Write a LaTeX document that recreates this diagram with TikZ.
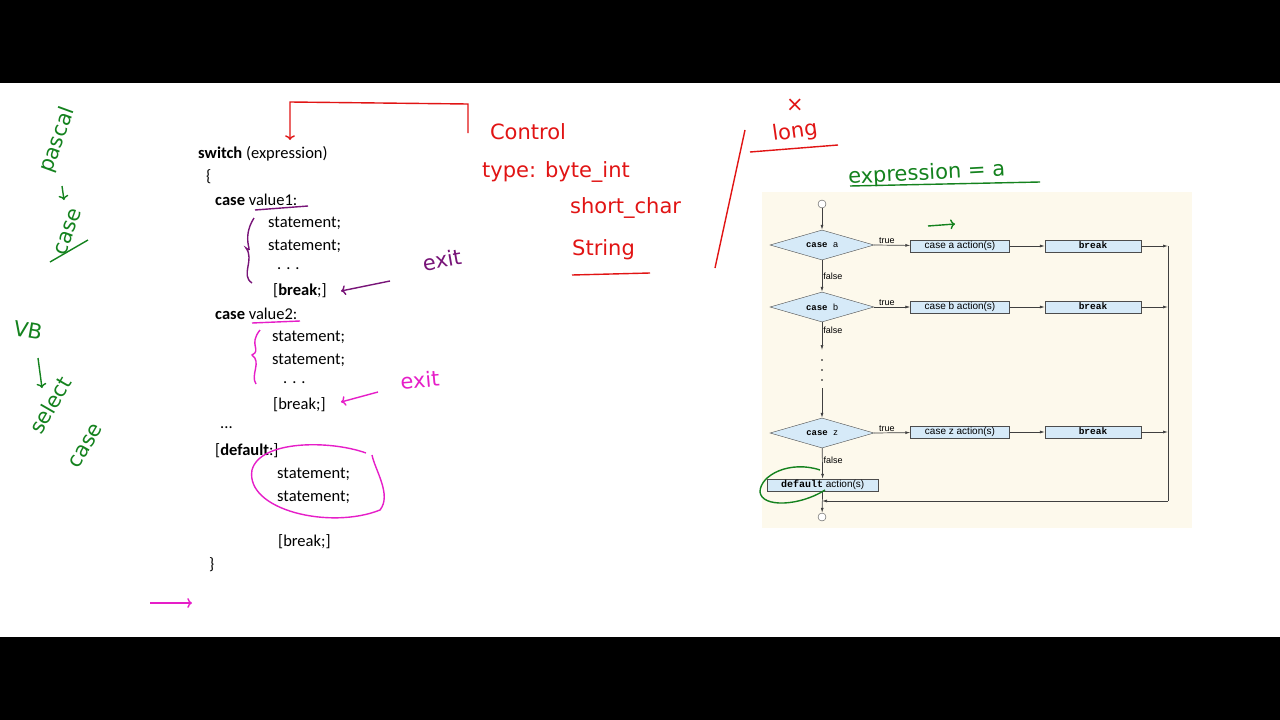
\documentclass[tikz,border=0pt]{standalone}
\usepackage{fontspec}
\setmainfont{Carlito}
\newfontfamily\fcs{Liberation Sans}
\newfontfamily\fcm{Liberation Mono}
\newfontfamily\hand{DejaVu Sans}
\usetikzlibrary{shapes.geometric,arrows.meta}
\definecolor{hgreen}{RGB}{20,130,30}
\definecolor{hred}{RGB}{225,20,20}
\definecolor{hmag}{RGB}{230,30,200}
\definecolor{hpur}{RGB}{120,20,120}
\definecolor{fbg}{RGB}{253,249,236}
\definecolor{fbox}{RGB}{214,234,248}
\begin{document}
\begin{tikzpicture}[x=1pt,y=-1pt,
 code/.style={anchor=west,inner sep=0pt,font=\fontsize{16.5}{18}\selectfont},
 dia/.style={diamond,aspect=3.4,draw=black!70,fill=fbox,minimum width=104pt,minimum height=30pt,inner sep=0pt,font=\fcm\bfseries\fontsize{9}{9}\selectfont},
 act/.style={draw=black!70,fill=fbox,minimum width=99pt,minimum height=12pt,inner sep=0pt,text height=7.5pt,text depth=2.5pt,font=\fcs\fontsize{10}{10}\selectfont},
 brk/.style={draw=black!70,fill=fbox,minimum width=96pt,minimum height=12pt,inner sep=0pt,text height=7.5pt,text depth=2.5pt,font=\fcm\bfseries\fontsize{9.5}{10}\selectfont},
 lab/.style={font=\fcs\fontsize{9}{9}\selectfont,inner sep=1pt},
 fl/.style={draw=black!75,line width=0.7pt,-{Latex[length=5pt,width=3pt]}},
 hw/.style={font=\hand\fontsize{21}{22}\selectfont,inner sep=0pt},
 hl/.style={line width=1.4pt},
]
\useasboundingbox (0,0) rectangle (1280,720);
\fill[white] (0,0) rectangle (1280,720);
\fill[black] (0,0) rectangle (1280,83);
\fill[black] (0,637) rectangle (1280,720);
% code
\node[code] (s1) at (198,154) {\textbf{switch} (expression)};
\node[code] (s2) at (206,177) {\{};
\node[code] (s3) at (215,200) {\textbf{case} value1:};
\node[code] (s4) at (268,223) {statement;};
\node[code] (s5) at (268,246) {statement;};
\node[code] (s6) at (277,269) {. . .};
\node[code] (s7) at (273,291) {[\textbf{break};]};
\node[code] (s8) at (215,314) {\textbf{case} value2:};
\node[code] (s9) at (272,337) {statement;};
\node[code] (s10) at (272,360) {statement;};
\node[code] (s11) at (283,383) {. . .};
\node[code] (s12) at (273,405) {[break;]};
\node[code] (s13) at (220,428) {...};
\node[code] (s14) at (215,451) {[\textbf{default}:]};
\node[code] (s15) at (277,474) {statement;};
\node[code] (s16) at (277,497) {statement;};
\node[code] (s17) at (278,542) {[break;]};
\node[code] (s18) at (209,565) {\}};
% flowchart
\fill[fbg] (762,192) rectangle (1192,528);
\node[circle,draw=black!70,fill=white,minimum size=8pt,inner sep=0pt] (st) at (822,204) {};
\node[dia] (da) at (822,245) {case {\fcs\mdseries a}};
\node[dia] (db) at (822,307) {case {\fcs\mdseries b}};
\node[dia] (dz) at (822,433) {case {\fcs\mdseries z}};
\node[act] (aa) at (960,246) {case a action(s)};
\node[act] (ab) at (960,307) {case b action(s)};
\node[act] (az) at (960,432) {case z action(s)};
\node[brk] (ba) at (1093,246) {break};
\node[brk] (bb) at (1093,307) {break};
\node[brk] (bz) at (1093,432) {break};
\node[draw=black!70,fill=fbox,minimum width=111pt,minimum height=12pt,inner sep=0pt,text height=7.5pt,text depth=2.5pt,anchor=west,font=\fcs\fontsize{10}{10}\selectfont] (df) at (767,485) {{\fcm\bfseries default} action(s)};
\node[circle,draw=black!70,fill=white,minimum size=8pt,inner sep=0pt] (en) at (822,517) {};
\coordinate (r1) at (1168,246);\coordinate (r2) at (1168,307);\coordinate (r3) at (1168,432);\coordinate (rb) at (1168,501);\coordinate (mb) at (822,501);
\coordinate (d1) at (822,350);\coordinate (d2) at (822,388);
\draw[fl] (st) -- (da);
\draw[fl] (da) -- node[lab,right,pos=0.5]{false} (db);
\draw[fl] (db) -- node[lab,right,pos=0.3]{false} (d1);
\foreach \yy in {360,370,380} \fill (822,\yy) circle (0.8pt);
\draw[fl] (d2) -- (dz);
\draw[fl] (dz) -- node[lab,right,pos=0.4]{false} (df);
\draw[fl] (df) -- (en);
\foreach \d/\a/\b/\r in {da/aa/ba/r1,db/ab/bb/r2,dz/az/bz/r3}{
 \draw[fl] (\d.east) -- node[lab,above,pos=0.35]{true} (\a);
 \draw[fl] (\a) -- (\b);
 \draw[fl] (\b) -- (\r);}
\draw[draw=black!75,line width=0.7pt] (r1) -- (rb);
\draw[fl] (rb) -- (mb);
% handwriting annotations
\node[hw,text=hgreen,rotate=70] (h1) at (58,140) {pascal};
\node[hw,text=hgreen,rotate=70] (h2) at (68,232) {case};
\draw[hgreen,hl,->] (62,186) -- (64,200);
\draw[hgreen,hl] (50,262) -- (88,240);
\node[hw,text=hgreen,rotate=-10] (h3) at (28,330) {VB};
\draw[hgreen,hl,->] (38,358) -- (42,388);
\node[hw,text=hgreen,rotate=60] (h4) at (50,405) {select};
\node[hw,text=hgreen,rotate=60] (h5) at (86,446) {case};
\node[hw,text=hred] (h6) at (528,132) {Control};
\node[hw,text=hred,anchor=west] (h7) at (482,172) {type: byte\_int};
\node[hw,text=hred,anchor=west] (h8) at (570,208) {short\_char};
\node[hw,text=hred,anchor=west] (h9) at (572,250) {String};
\draw[hred,hl] (572,275) -- (650,273);
\draw[hred,hl] (715,268) -- (745,130);
\node[hw,text=hred,rotate=8] (h10) at (795,132) {long};
\node[hw,text=hred] (h11) at (795,105) {×};
\draw[hred,hl] (750,152) -- (838,145);
\node[hw,text=hgreen,anchor=west,rotate=3] (h12) at (848,178) {expression = a};
\draw[hgreen,hl,->] (928,226) -- (955,224);
\draw[hred,hl,->] (468,133) -- (468,104) -- (290,102) -- (290,140);
\node[hw,text=hpur,rotate=10] (h13) at (442,260) {exit};
\draw[hpur,hl,->] (390,281) -- (341,291);
\node[hw,text=hmag,rotate=5] (h14) at (420,380) {exit};
\draw[hmag,hl,->] (378,392) -- (341,402);
\draw[hpur,hl] (255,210) -- (308,206);
\draw[hmag,hl] (252,323) -- (300,321);
\draw[hpur,hl] (254,218) .. controls (240,240) and (255,255) .. (246,248) .. controls (255,260) and (240,275) .. (252,283);
\draw[hmag,hl] (260,330) .. controls (248,345) and (262,350) .. (252,355) .. controls (262,362) and (250,375) .. (256,384);
\draw[hmag,hl] (366,453) .. controls (330,440) and (260,440) .. (252,470) .. controls (245,510) and (330,530) .. (380,510) .. controls (392,495) and (375,470) .. (372,455);
\draw[hgreen,hl] (820,470) .. controls (790,460) and (760,475) .. (760,492) .. controls (762,508) and (800,506) .. (825,490);
\draw[hgreen,hl] (850,186) -- (1040,182);
\draw[hmag,hl,->] (150,603) -- (192,603);
\end{tikzpicture}
\end{document}
